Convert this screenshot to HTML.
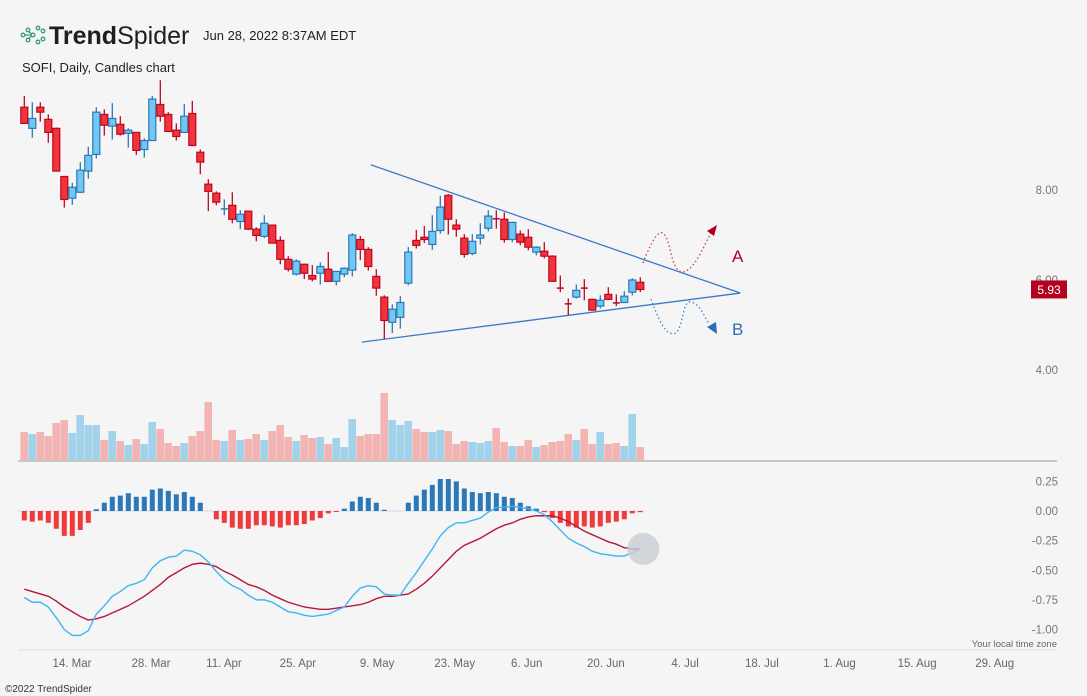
<!DOCTYPE html>
<html><head><meta charset="utf-8"><style>
body{margin:0;background:#f5f5f5;font-family:"Liberation Sans",sans-serif;}
#wrap{position:relative;width:1087px;height:696px;overflow:hidden;background:#f5f5f5}
svg{position:absolute;left:0;top:0}
</style></head><body>
<div id="wrap">
<svg id="chart" width="1087" height="696"></svg>
</div>
<script>
// ---- data ----
const opens  =[9.84,9.37,9.84,9.57,9.37,8.30,7.82,7.95,8.42,8.79,9.68,9.42,9.46,9.26,9.28,8.90,9.10,9.90,9.68,9.33,9.28,9.70,8.84,8.13,7.93,7.56,7.66,7.30,7.53,7.13,6.97,7.22,6.88,6.46,6.13,6.35,6.10,6.15,6.24,5.97,6.13,6.22,6.90,6.68,6.08,5.62,5.06,5.17,5.93,6.88,6.95,6.79,7.10,7.88,7.22,6.93,6.59,6.93,7.15,7.36,7.35,6.90,7.02,6.95,6.62,6.64,6.53,5.82,5.47,5.62,5.82,5.57,5.42,5.68,5.49,5.50,5.73,5.95];
const highs  =[10.09,9.95,9.95,9.68,9.39,8.31,8.16,8.62,8.96,9.84,9.79,9.93,9.64,9.37,9.29,9.15,10.09,10.44,9.73,9.48,9.91,9.98,8.90,8.24,7.97,7.79,7.95,7.55,7.54,7.17,7.44,7.23,6.97,6.53,6.46,6.36,6.33,6.39,6.62,6.20,6.28,7.04,6.98,6.73,6.24,5.66,5.46,5.64,6.73,7.11,7.20,7.44,7.87,7.91,7.35,7.02,7.02,7.26,7.55,7.55,7.50,7.29,7.10,7.13,6.75,6.84,6.55,6.10,5.59,5.90,6.02,5.58,5.66,5.84,5.68,5.75,6.04,6.06];
const lows   =[9.47,9.16,9.52,9.05,8.41,7.61,7.67,7.93,8.25,8.70,9.21,9.12,9.21,8.94,8.78,8.72,9.09,9.52,9.29,9.10,9.27,8.97,8.35,7.53,7.66,7.44,7.26,7.13,7.11,6.86,6.93,6.81,6.35,6.19,6.10,6.02,5.97,5.90,5.96,5.88,6.06,6.08,6.44,6.21,5.65,4.69,4.82,4.92,5.88,6.70,6.82,6.67,7.03,7.01,6.96,6.50,6.55,6.79,7.08,7.14,6.83,6.84,6.77,6.66,6.55,6.48,5.96,5.73,5.22,5.59,5.55,5.32,5.37,5.56,5.42,5.49,5.66,5.73];
const closes =[9.48,9.59,9.73,9.28,8.42,7.79,8.06,8.44,8.77,9.73,9.44,9.59,9.24,9.33,8.88,9.10,10.02,9.64,9.30,9.19,9.64,8.99,8.62,7.97,7.73,7.58,7.35,7.46,7.13,6.99,7.26,6.82,6.46,6.24,6.42,6.15,6.02,6.30,5.97,6.19,6.26,7.00,6.68,6.30,5.82,5.10,5.35,5.50,6.62,6.77,6.90,7.08,7.62,7.35,7.13,6.57,6.86,7.00,7.42,7.34,6.90,7.28,6.84,6.73,6.73,6.53,5.97,5.80,5.45,5.77,5.80,5.33,5.55,5.57,5.47,5.64,6.00,5.79];
const volumes=[29,27,29,25,38,41,28,46,36,36,21,30,20,16,22,17,39,32,18,15,18,25,30,59,21,20,31,21,22,27,21,30,36,24,20,26,23,24,17,23,14,42,25,27,27,68,41,36,40,32,29,29,31,30,17,20,19,18,20,33,19,15,15,21,14,16,19,20,27,21,32,17,29,17,18,15,47,14];
const histogram=[-0.08,-0.09,-0.08,-0.10,-0.15,-0.21,-0.21,-0.16,-0.10,0.015,0.07,0.12,0.13,0.15,0.12,0.12,0.18,0.19,0.17,0.14,0.16,0.12,0.07,0,-0.07,-0.10,-0.14,-0.15,-0.15,-0.12,-0.12,-0.13,-0.14,-0.12,-0.12,-0.11,-0.08,-0.06,-0.02,-0.005,0.02,0.08,0.12,0.11,0.07,0.01,0,0,0.07,0.13,0.18,0.22,0.27,0.27,0.25,0.19,0.16,0.15,0.16,0.15,0.12,0.11,0.07,0.04,0.02,-0.01,-0.06,-0.10,-0.13,-0.14,-0.13,-0.14,-0.13,-0.10,-0.09,-0.07,-0.02,-0.01];
const macdLine=[-0.73,-0.77,-0.77,-0.81,-0.90,-1.00,-1.05,-1.05,-1.01,-0.87,-0.80,-0.72,-0.68,-0.63,-0.61,-0.58,-0.48,-0.42,-0.39,-0.38,-0.33,-0.34,-0.37,-0.43,-0.51,-0.58,-0.63,-0.66,-0.71,-0.75,-0.75,-0.77,-0.81,-0.85,-0.86,-0.88,-0.89,-0.88,-0.87,-0.84,-0.81,-0.72,-0.65,-0.63,-0.64,-0.70,-0.71,-0.71,-0.61,-0.52,-0.42,-0.32,-0.21,-0.14,-0.10,-0.10,-0.08,-0.06,-0.01,0.03,0.03,0.04,0.03,0.02,0.00,-0.03,-0.09,-0.16,-0.23,-0.27,-0.30,-0.34,-0.36,-0.37,-0.38,-0.38,-0.35,-0.32];
const signalLine=[-0.66,-0.68,-0.70,-0.72,-0.76,-0.81,-0.85,-0.89,-0.92,-0.91,-0.89,-0.86,-0.83,-0.80,-0.76,-0.72,-0.67,-0.62,-0.56,-0.52,-0.48,-0.45,-0.44,-0.45,-0.47,-0.51,-0.54,-0.58,-0.62,-0.64,-0.67,-0.71,-0.74,-0.77,-0.79,-0.81,-0.82,-0.83,-0.83,-0.82,-0.81,-0.80,-0.79,-0.77,-0.74,-0.72,-0.72,-0.71,-0.70,-0.66,-0.61,-0.55,-0.48,-0.41,-0.34,-0.29,-0.26,-0.23,-0.19,-0.15,-0.12,-0.10,-0.07,-0.05,-0.04,-0.04,-0.04,-0.06,-0.09,-0.13,-0.17,-0.20,-0.23,-0.26,-0.28,-0.31,-0.32,-0.32];
const priceTicks=[8,6,4];
const macdTicks=[0.25,0,-0.25,-0.5,-0.75,-1.0];
const dateLabels=["14. Mar","28. Mar","11. Apr","25. Apr","9. May","23. May","6. Jun","20. Jun","4. Jul","18. Jul","1. Aug","15. Aug","29. Aug"];
const dateIndex=[5.96,15.84,24.96,34.2,44.1,53.8,62.8,72.7,82.6,92.2,101.9,111.6,121.3];
const upperTrend=[[43.3,8.56],[89.5,5.71]];
const lowerTrend=[[42.2,4.62],[89.5,5.71]];
const lastLabel="5.93";

// ---- scales ----
const X=i=>24.3+8*i;
const PY=p=>190+(8-p)*45;
const VY=v=>461-v;
const MY=m=>511-m*118.5;

const svg=document.getElementById('chart');
const NS='http://www.w3.org/2000/svg';
function mk(tag,attrs,parent){const e=document.createElementNS(NS,tag);for(const k in attrs)e.setAttribute(k,attrs[k]);(parent||svg).appendChild(e);return e;}
function txt(s,attrs,parent){const e=mk('text',attrs,parent);e.textContent=s;return e;}

// header
const hdr=mk('g',{});


const logo=mk('g',{fill:'none',stroke:'#3a9a7a','stroke-width':'1.3'},hdr);


[[23,35],[28,30],[28,40],[33,35],[38,28],[38,42],[43,31],[43,39]].forEach(c=>mk('circle',{cx:c[0],cy:c[1],r:1.8},logo));
mk('path',{d:'M25,35 L31,35 M29,32 L32,34 M29,38 L32,36',stroke:'#3a9a7a'},logo);
const brand=txt('',{x:49,y:44,'font-size':'25','fill':'#1e1e1e'},hdr);


const b1=mk('tspan',{'font-weight':'bold'},brand);b1.textContent='Trend';
const b2=mk('tspan',{},brand);b2.textContent='Spider';
const dt=txt('Jun 28, 2022 8:37AM EDT',{x:203,y:40,'font-size':'13','fill':'#222'},hdr);


const ti=txt('SOFI, Daily, Candles chart',{x:22,y:72,'font-size':'13','fill':'#222'},hdr);



// price axis ticks
priceTicks.forEach(p=>{const t=txt(p.toFixed(2),{x:1058,y:PY(p)+4,'font-size':'11.5','fill':'#777','text-anchor':'end'});

});

// trendlines
[upperTrend,lowerTrend].forEach((t,k)=>{const l=mk('line',{x1:X(t[0][0]),y1:PY(t[0][1]),x2:X(t[1][0]),y2:PY(t[1][1]),stroke:'#3a7cc4','stroke-width':'1.3'});

});

// candles
const cg=mk('g',{});


opens.forEach((o,i)=>{
  const c=closes[i],up=c>=o,x=X(i);
  const stroke=up?'#2a78b8':'#c0061f',fill=up?'#72c7f2':'#f0343c';
  const g=mk('g',{},cg);
  
  
  mk('line',{x1:x,x2:x,y1:PY(highs[i]),y2:PY(lows[i]),stroke:stroke,'stroke-width':'1.3'},g);
  const top=PY(Math.max(o,c)),bot=PY(Math.min(o,c));
  const h=Math.max(bot-top,1);
  if(h<2) mk('line',{x1:x-3.5,x2:x+3.5,y1:top,y2:top,stroke:stroke,'stroke-width':'1.5'},g);
  else mk('rect',{x:x-3.5,y:top,width:7,height:h,fill:fill,stroke:stroke,'stroke-width':'1.2'},g);
});

// last price label
const lp=mk('g',{});


const ly=PY(closes[closes.length-1]);
mk('rect',{x:1031,y:ly-9,width:36,height:18,fill:'#b3001e'},lp);
txt(lastLabel,{x:1049,y:ly+4.5,'font-size':'12','fill':'#fff','text-anchor':'middle'},lp);

// scenario arrows
const sc=mk('g',{fill:'none','stroke-width':'1.4','stroke-dasharray':'1.5 2.5'});


const pa=mk('path',{d:'M643,263 C652,240 660,225 666,237 C672,250 672,272 683,272 C695,270 704,245 711,233',stroke:'#d04a5a'},sc);


const pb=mk('path',{d:'M651,299 C657,315 665,338 676,333 C684,325 682,300 691,302 C700,304 704,316 709,324',stroke:'#4a8ad0'},sc);


const ah=mk('polygon',{points:'717,225 707,231 714,236',fill:'#b3001e'});


const bh=mk('polygon',{points:'707,327 716,322 717,334',fill:'#2a70b8'});


const la=txt('A',{x:732,y:262,'font-size':'17','fill':'#b3001e'});


const lb=txt('B',{x:732,y:335,'font-size':'17','fill':'#2a70b8'});



// volume
const vg=mk('g',{});


volumes.forEach((v,i)=>{const up=closes[i]>=opens[i];
  const r=mk('rect',{x:X(i)-3.9,y:VY(v),width:7.6,height:v,fill:up?'#a3d3ea':'#f3b4b4'},vg);
  
  });
const vb=mk('rect',{x:18,y:460,width:1039,height:2,fill:'#c8c8c8'});



// MACD panel
macdTicks.forEach(m=>{const t=txt(m.toFixed(2),{x:1058,y:MY(m)+4,'font-size':'11.5','fill':'#777','text-anchor':'end'});

});
const zl=mk('line',{x1:18,x2:X(histogram.length-0.5),y1:MY(0),y2:MY(0),stroke:'#e6e6ee','stroke-width':'2'});


const hg=mk('g',{});


histogram.forEach((h,i)=>{if(h===0)return;const y0=MY(0),y1=MY(h);
  const r=mk('rect',{x:X(i)-2.5,y:Math.min(y0,y1),width:5,height:Math.max(Math.abs(y1-y0),1),fill:h>0?'#2a78b8':'#f23a3a'},hg);
  
  });
function line(arr,color,name){const p=mk('polyline',{points:arr.map((v,i)=>X(i)+','+MY(v)).join(' '),fill:'none',stroke:color,'stroke-width':'1.4'});

}
line(signalLine,'#b5173a','signal-line');
line(macdLine,'#3fb5f0','macd-line');
const ci=mk('circle',{cx:X(macdLine.length-1)+3,cy:MY(macdLine[macdLine.length-1]),r:16,fill:'#c9cdd2','fill-opacity':'0.8'});



// x axis
const xa=mk('line',{x1:18,x2:1057,y1:650,y2:650,stroke:'#dcdcdc','stroke-width':'1'});


dateLabels.forEach((d,k)=>{const t=txt(d,{x:X(dateIndex[k]),y:667,'font-size':'11.5','fill':'#666','text-anchor':'middle'});

});
const tz=txt('Your local time zone',{x:1057,y:647,'font-size':'9.5','fill':'#666','text-anchor':'end'});


const cp=txt('©2022 TrendSpider',{x:5,y:692,'font-size':'10','fill':'#333'});


</script>
</body></html>
